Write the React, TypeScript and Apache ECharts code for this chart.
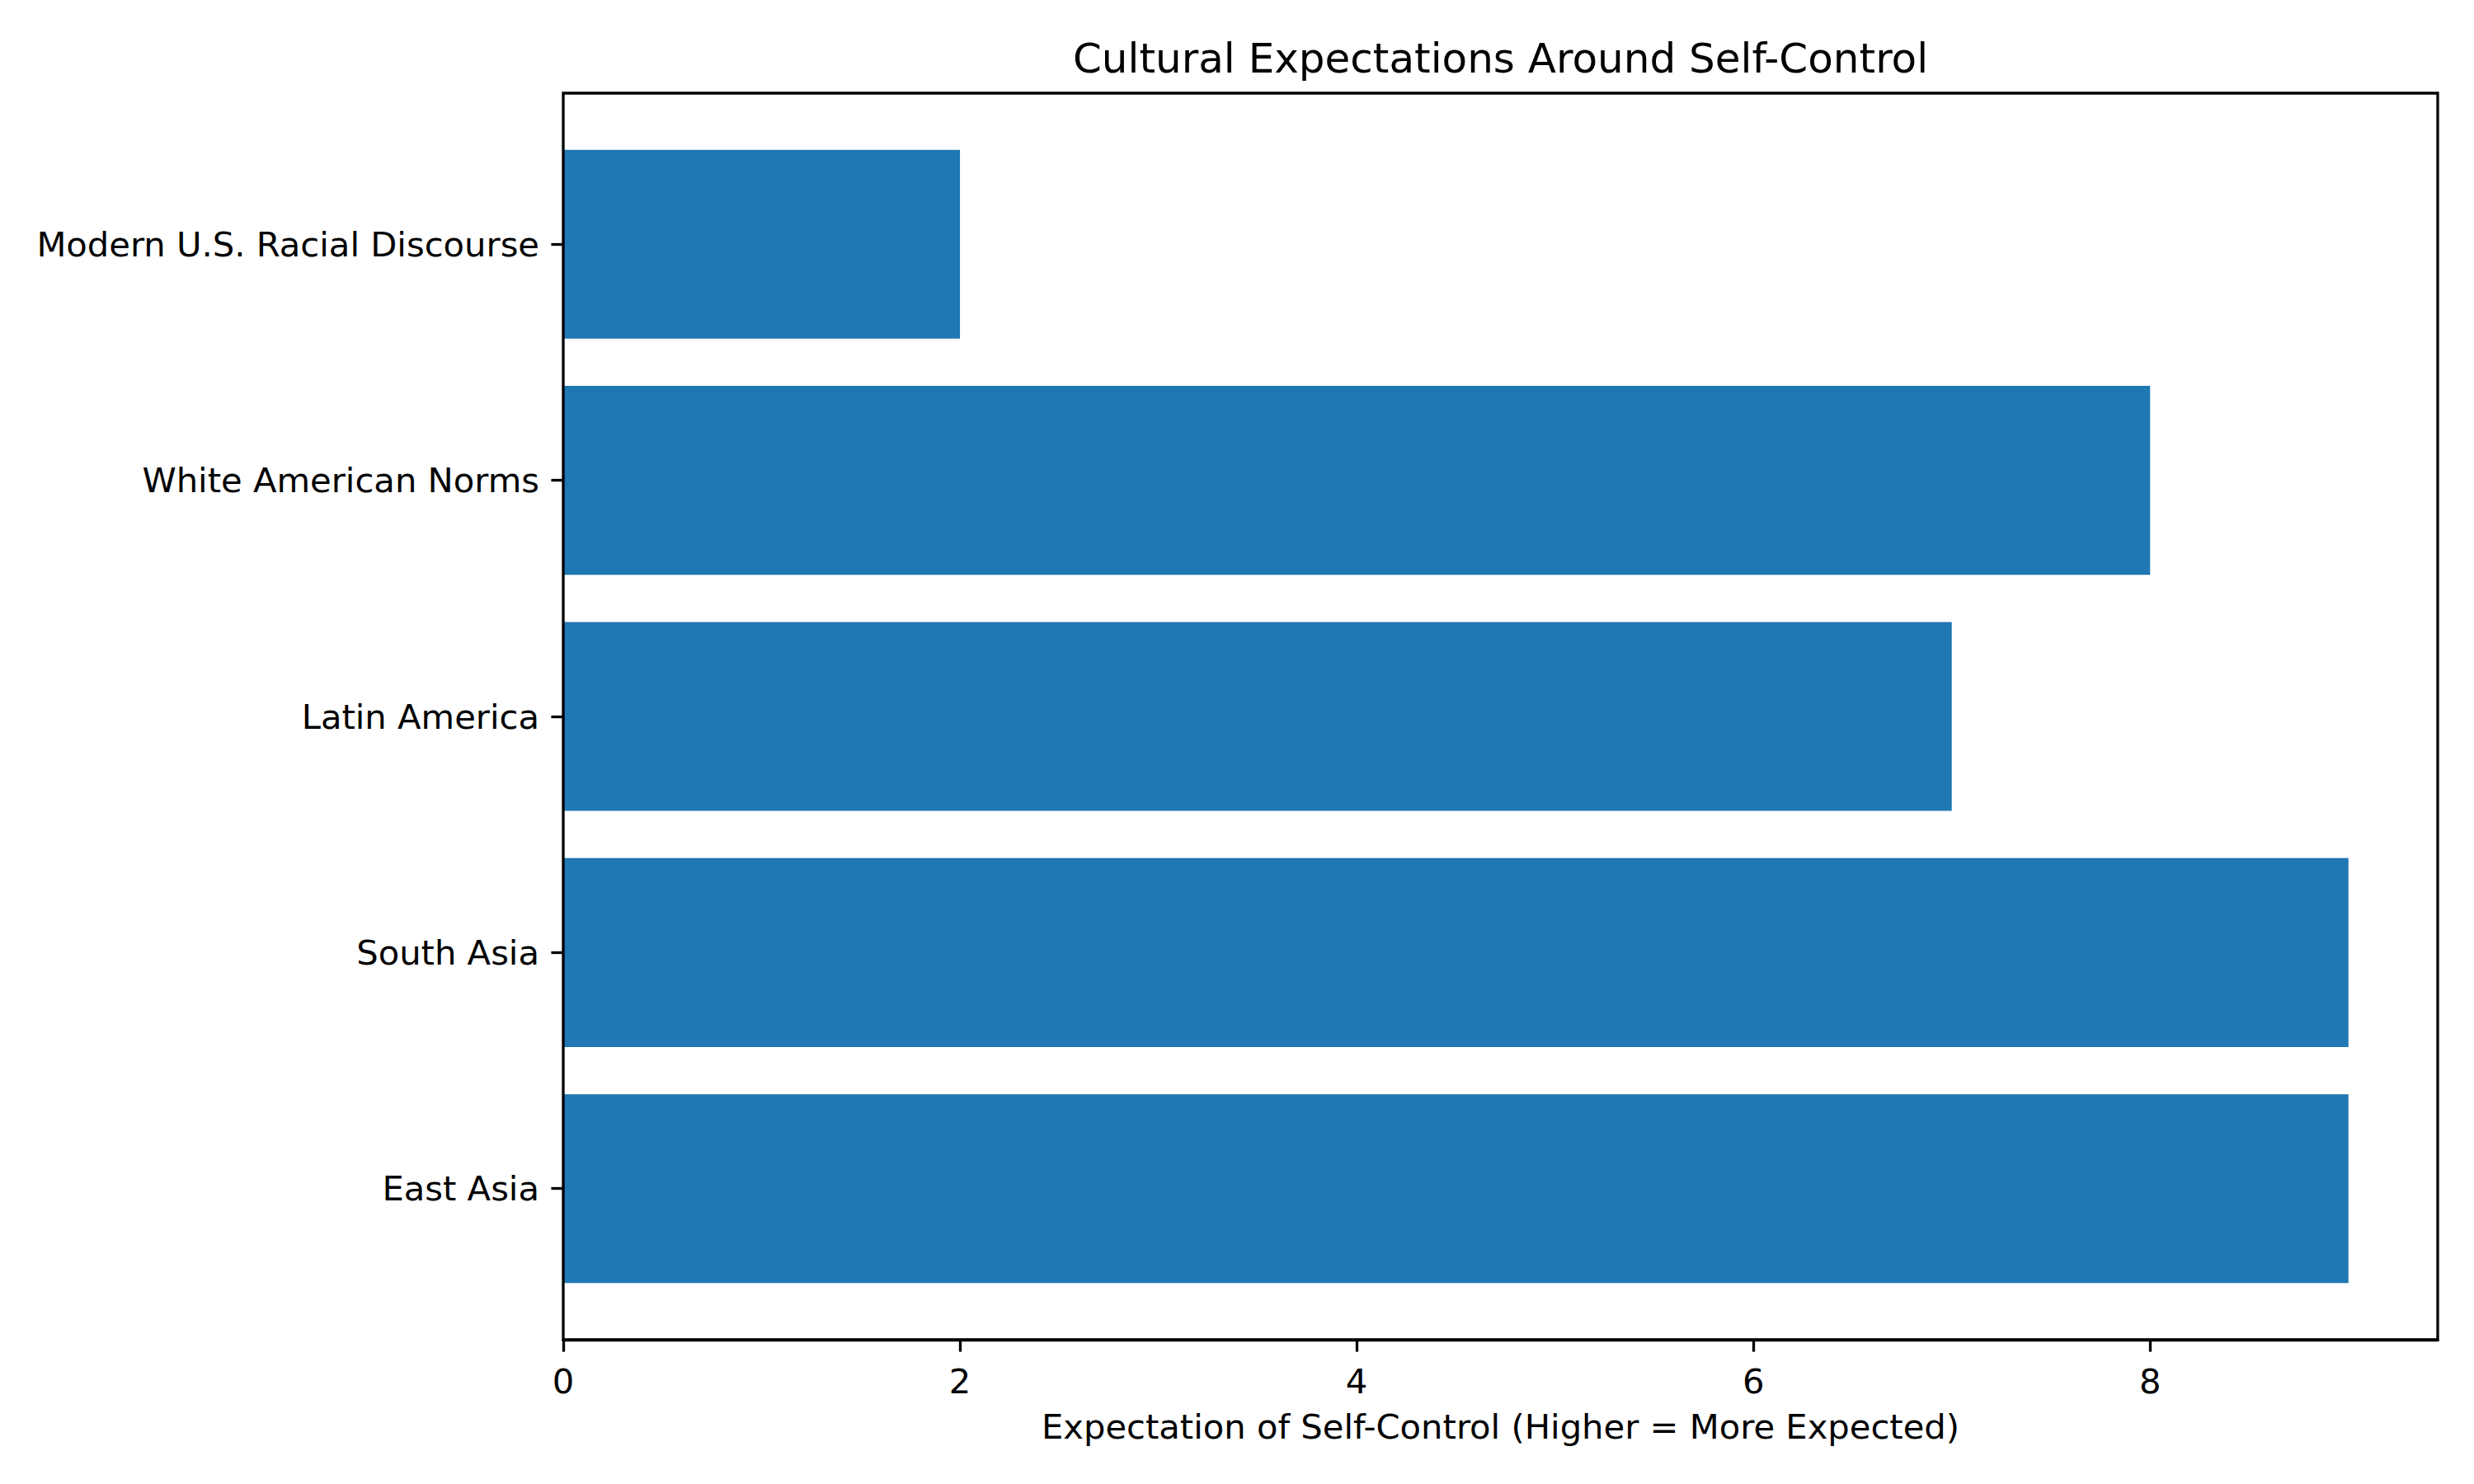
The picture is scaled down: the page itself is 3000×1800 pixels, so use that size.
import React, { useEffect, useRef } from "react";
import * as echarts from "echarts";

const categories = [
  "East Asia",
  "South Asia",
  "Latin America",
  "White American Norms",
  "Modern U.S. Racial Discourse",
];
const values = [9, 9, 7, 8, 2];
const xTicks = [0, 2, 4, 6, 8];
const titleText = "Cultural Expectations Around Self-Control";
const xLabel = "Expectation of Self-Control (Higher = More Expected)";

export default function App() {
  const ref = useRef<HTMLDivElement>(null);
  useEffect(() => {
    document.body.style.margin = "0";
    const chart = echarts.init(ref.current!, null, { renderer: "svg" });
    const font = "DejaVu Sans";
    const L = 683, R = 2956, T = 113, B = 1625;
    const unit = (B - T) / 5.28;
    const inset = 0.14 * unit;
    const xMax = 9.45;
    chart.setOption({
      animation: false,
      backgroundColor: "#ffffff",
      textStyle: { fontFamily: font },
      graphic: [
        {
          type: "text",
          x: (L + R) / 2,
          y: 71,
          style: {
            text: titleText,
            fontSize: 50,
            fontFamily: font,
            fill: "#000",
            textAlign: "center",
            textVerticalAlign: "middle",
          },
        },
      ],
      grid: [
        {
          left: L,
          top: T,
          width: R - L,
          height: B - T,
          show: true,
          borderColor: "#000",
          borderWidth: 3.3,
          backgroundColor: "transparent",
          z: 5,
        },
        {
          left: L,
          top: T + inset,
          width: R - L,
          height: B - T - 2 * inset,
        },
      ],
      xAxis: [
        {
          type: "value",
          gridIndex: 0,
          min: 0,
          max: xMax,
          interval: 2,
          splitLine: { show: false },
          axisLine: { show: true, lineStyle: { color: "#000", width: 3.3 } },
          axisTick: { show: true, inside: false, length: 14.6, lineStyle: { color: "#000", width: 3.3 } },
          axisLabel: {
            show: true,
            margin: 29,
            fontSize: 41.7,
            color: "#000",
            fontFamily: font,
            showMaxLabel: false,
            formatter: (v: number) => (xTicks.includes(v) ? String(v) : ""),
          },
          name: xLabel,
          nameLocation: "middle",
          nameGap: 84,
          nameTextStyle: { fontSize: 41.7, color: "#000", fontFamily: font },
        },
        {
          type: "value",
          gridIndex: 1,
          min: 0,
          max: xMax,
          show: false,
          splitLine: { show: false },
        },
      ],
      yAxis: [
        {
          type: "value",
          gridIndex: 0,
          min: 0,
          max: 1,
          show: false,
          splitLine: { show: false },
        },
        {
          type: "category",
          gridIndex: 1,
          data: categories,
          axisLine: { show: false },
          axisTick: {
            show: true,
            alignWithLabel: true,
            inside: false,
            length: 14.6,
            lineStyle: { color: "#000", width: 3.3 },
          },
          axisLabel: { margin: 29, fontSize: 41.7, color: "#000", fontFamily: font },
          splitLine: { show: false },
        },
      ],
      series: [
        {
          type: "bar",
          xAxisIndex: 1,
          yAxisIndex: 1,
          data: values,
          barWidth: "80%",
          itemStyle: { color: "#1f77b4" },
        },
      ],
    });
    return () => chart.dispose();
  }, []);
  return <div ref={ref} style={{ width: 3000, height: 1800 }} />;
}
